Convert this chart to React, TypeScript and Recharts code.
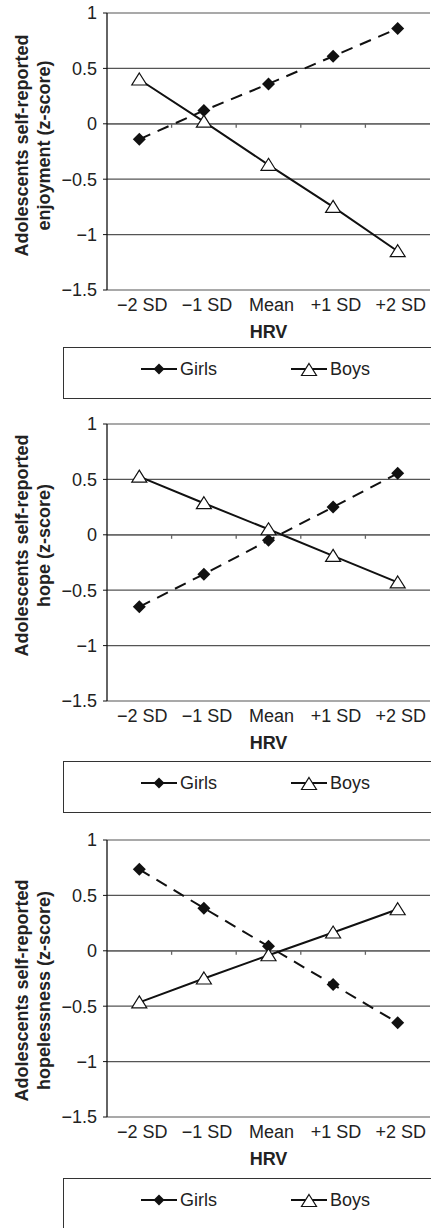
import { LineChart, Line, XAxis, YAxis, CartesianGrid, ReferenceLine, Legend, Label } from 'recharts';

const HRV_LEVELS = ['\u22122 SD', '\u22121 SD', 'Mean', '+1 SD', '+2 SD'];
const Y_TICKS = [-1.5, -1, -0.5, 0, 0.5, 1];

const ENJOY_GIRLS = [-0.14, 0.12, 0.36, 0.61, 0.86];
const ENJOY_BOYS = [0.4, 0.02, -0.37, -0.75, -1.15];
const HOPE_GIRLS = [-0.65, -0.355, -0.05, 0.25, 0.555];
const HOPE_BOYS = [0.525, 0.285, 0.05, -0.19, -0.43];
const HOPELESS_GIRLS = [0.735, 0.385, 0.04, -0.305, -0.65];
const HOPELESS_BOYS = [-0.465, -0.25, -0.04, 0.165, 0.375];

const SERIES_ORDER = ['girls', 'boys'];

const FONT = '"Liberation Sans", Arial, Helvetica, sans-serif';
const INK = '#111';

const PANELS = [
  { top: 0, line2: 'enjoyment (z-score)', girls: ENJOY_GIRLS, boys: ENJOY_BOYS, labelShift: -6, legendTop: 347 },
  { top: 411, line2: 'hope (z-score)', girls: HOPE_GIRLS, boys: HOPE_BOYS, labelShift: -17, legendTop: 350 },
  { top: 827, line2: 'hopelessness (z-score)', girls: HOPELESS_GIRLS, boys: HOPELESS_BOYS, labelShift: 12, legendTop: 351 },
];

const fmtY = (v: number) => (v < 0 ? '\u2212' + Math.abs(v) : String(v));

function Diamond({ cx, cy, r = 6.5 }: any) {
  if (cx == null || cy == null) return null;
  return <path d={`M${cx},${cy - r}L${cx + r},${cy}L${cx},${cy + r}L${cx - r},${cy}Z`} fill={INK} />;
}

function Triangle({ cx, cy }: any) {
  if (cx == null || cy == null) return null;
  return (
    <path
      d={`M${cx},${cy - 6.5}L${cx + 7.5},${cy + 5.5}L${cx - 7.5},${cy + 5.5}Z`}
      fill="#fff"
      stroke={INK}
      strokeWidth={1.2}
    />
  );
}

// x axis crosses at 0, tick marks between categories
function ZeroAxis(props: any) {
  const { x1, x2, y1 } = props;
  const step = (x2 - x1) / HRV_LEVELS.length;
  return (
    <g>
      <line x1={x1} y1={y1} x2={x2} y2={y1} stroke="#666" strokeWidth={1.3} />
      {HRV_LEVELS.slice(1).map((_, i) => (
        <line key={i} x1={x1 + step * (i + 1)} x2={x1 + step * (i + 1)} y1={y1} y2={y1 + 4} stroke="#666" strokeWidth={1.3} />
      ))}
    </g>
  );
}

function LegendBox({ payload }: any) {
  const items = [...(payload || [])].sort(
    (a: any, b: any) => SERIES_ORDER.indexOf(a.dataKey) - SERIES_ORDER.indexOf(b.dataKey)
  );
  return (
    <div
      style={{
        width: 370,
        height: 52,
        border: '1px solid #333',
        borderRight: 'none',
        boxSizing: 'border-box',
        position: 'relative',
        fontFamily: FONT,
        fontSize: 18,
        color: '#222',
      }}
    >
      {items.map((it: any, i: number) => (
        <div key={it.value} style={{ position: 'absolute', left: 77 + i * 150, top: 9, height: 24, display: 'flex', alignItems: 'center' }}>
          <svg width={36} height={20}>
            <line x1={0} y1={10} x2={36} y2={10} stroke={INK} strokeWidth={2} />
            {it.dataKey === 'girls' ? <Diamond cx={18} cy={10} r={5.5} /> : <Triangle cx={18} cy={11} />}
          </svg>
          <span style={{ marginLeft: 3 }}>{it.value}</span>
        </div>
      ))}
    </div>
  );
}

function Panel({ panel }: any) {
  const data = HRV_LEVELS.map((hrv, i) => ({ hrv, girls: panel.girls[i], boys: panel.boys[i] }));
  return (
    <div style={{ position: 'absolute', left: 0, top: panel.top }}>
      <LineChart width={431} height={411} data={data} margin={{ top: 13, right: 1, left: 0, bottom: 71 }}>
        <CartesianGrid vertical={false} stroke="#555" strokeWidth={1.2} />
        <XAxis
          dataKey="hrv"
          scale="band"
          axisLine={false}
          tickLine={false}
          height={50}
          tick={{ fontSize: 18, fill: '#222', dx: 3 }}
          interval={0}
        >
          <Label value="HRV" position="insideBottom" offset={2} fontSize={18} fontWeight="bold" fill="#222" />
        </XAxis>
        <YAxis
          domain={[-1.5, 1]}
          ticks={Y_TICKS}
          tickFormatter={fmtY}
          width={107}
          tickSize={4}
          tickMargin={6}
          axisLine={{ stroke: INK, strokeWidth: 1.3 }}
          tickLine={{ stroke: INK }}
          tick={{ fontSize: 18, fill: '#222' }}
          allowDataOverflow
        >
          <Label
            content={(p: any) => {
              const vb = p.viewBox || {};
              const cy = vb.y + vb.height / 2 + panel.labelShift;
              return (
                <g transform={`translate(28, ${cy}) rotate(-90)`}>
                  <text textAnchor="middle" fontSize={18} fontWeight="bold" fill="#222">
                    <tspan x={0} y={0}>Adolescents self-reported</tspan>
                    <tspan x={0} y={22}>{panel.line2}</tspan>
                  </text>
                </g>
              );
            }}
          />
        </YAxis>
        <YAxis yAxisId="r" orientation="right" width={0} domain={[-1.5, 1]} tick={false} tickLine={false} axisLine={{ stroke: '#555', strokeWidth: 1.2 }} />
        <ReferenceLine y={0} shape={ZeroAxis} />
        <Legend
          layout="horizontal"
          align="center"
          verticalAlign="middle"
          wrapperStyle={{ left: 63, top: panel.legendTop, width: 370, height: 52 }}
          content={LegendBox}
        />
        <Line
          dataKey="girls"
          name="Girls"
          stroke={INK}
          strokeWidth={2}
          strokeDasharray="12 8"
          dot={(p: any) => <Diamond key={p.index} cx={p.cx} cy={p.cy} />}
          activeDot={false}
          isAnimationActive={false}
        />
        <Line
          dataKey="boys"
          name="Boys"
          stroke={INK}
          strokeWidth={2}
          dot={(p: any) => <Triangle key={p.index} cx={p.cx} cy={p.cy} />}
          activeDot={false}
          isAnimationActive={false}
        />
      </LineChart>
    </div>
  );
}

export default function App() {
  return (
    <div
      style={{
        position: 'absolute',
        left: 0,
        top: 0,
        width: 431,
        height: 1228,
        overflow: 'hidden',
        background: '#fff',
        fontFamily: FONT,
      }}
    >
      {PANELS.map((p) => (
        <Panel key={p.top} panel={p} />
      ))}
    </div>
  );
}
